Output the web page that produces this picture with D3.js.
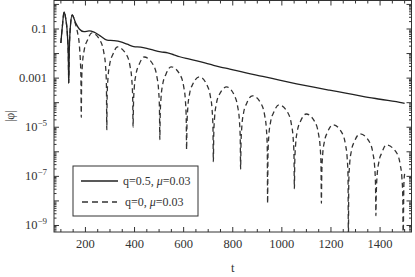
<!DOCTYPE html>
<html lang="en">
  <head>
    <meta charset="UTF-8" />
    <title>phi decay</title>
    <script src="https://cdn.jsdelivr.net/npm/d3@7"></script>
    <style>
      body { margin: 0; background: #fff; }
      svg { display: block; }
      text { font-family: "Liberation Serif", "DejaVu Serif", serif; fill: #333; }
    </style>
  </head>
  <body>
    <svg width="415" height="277"></svg>
    <script>
      // tick labels
      const xTicks = [200, 400, 600, 800, 1000, 1200, 1400];
      const yLabelExp = [-1, -3, -5, -7, -9];

      // q=0.5 curve: t and log10|phi|
      const solidT = [100, 106, 113, 120, 127, 130.5, 132, 134, 138, 146, 160, 175, 194, 215, 235, 260, 288, 315, 344, 370,
        397, 425, 450, 480, 507, 535, 560, 584, 620, 654, 690, 719, 750, 788, 850, 922, 990, 1060, 1130, 1194,
        1260, 1329, 1400, 1491, 1500];
      const solidLog = [-1.57, -0.9, -0.3, -0.6, -1.3, -2.2, -3.2, -2.0, -1.0, -0.43, -0.75, -1.0, -1.11, -1.08, -1.13, -1.28, -1.45, -1.47, -1.52, -1.62,
        -1.72, -1.74, -1.79, -1.87, -1.93, -1.97, -2.05, -2.13, -2.22, -2.30, -2.39, -2.47, -2.55, -2.63, -2.78, -2.93, -3.08, -3.23, -3.37, -3.49,
        -3.61, -3.74, -3.86, -4.01, -4.03];

      // q=0 curve: t and log10|phi|
      const dashT = [100, 106, 113, 120, 127, 130.5, 132, 134, 138, 146, 158, 168, 176, 181.5, 183,
        184.5, 188, 195, 208, 226, 262, 275, 282, 285.5, 287,
        288.5, 292, 299, 312, 330, 369, 382, 389, 392.5, 394,
        395.5, 399, 406, 419, 439, 478, 491, 498, 501.5, 503,
        504.5, 508, 515, 528, 549, 587, 600, 607, 610.5, 612,
        613.5, 617, 624, 637, 664, 696, 709, 716, 719.5, 721,
        722.5, 726, 733, 746, 775, 807, 820, 827, 830.5, 832,
        833.5, 837, 844, 857, 880, 917, 930, 937, 940.5, 942,
        943.5, 947, 954, 967, 988, 1026, 1039, 1046, 1049.5, 1051,
        1052.5, 1056, 1063, 1076, 1099, 1136, 1149, 1156, 1159.5, 1161,
        1162.5, 1166, 1173, 1186, 1208, 1246, 1259, 1266, 1269.5, 1271,
        1272.5, 1276, 1283, 1296, 1318, 1358, 1371, 1378, 1381.5, 1383,
        1384.5, 1388, 1395, 1408, 1425, 1469, 1482, 1489, 1492.5, 1494,
        1497, 1500];
      const dashLog = [-1.57, -0.9, -0.3, -0.6, -1.3, -2.2, -3.2, -2.0, -1.0, -0.43, -0.75, -1.15, -1.75, -2.9, -4.6,
        -3.16, -2.41, -1.86, -1.46, -1.16, -1.51, -1.96, -2.51, -3.26, -5.1,
        -3.73, -2.98, -2.43, -2.03, -1.73, -2.08, -2.53, -3.08, -3.83, -5.0,
        -4.14, -3.39, -2.84, -2.44, -2.14, -2.49, -2.94, -3.49, -4.24, -5.5,
        -4.54, -3.79, -3.24, -2.84, -2.54, -2.89, -3.34, -3.89, -4.64, -5.9,
        -4.95, -4.2, -3.65, -3.25, -2.95, -3.3, -3.75, -4.3, -5.05, -6.4,
        -5.36, -4.61, -4.06, -3.66, -3.36, -3.71, -4.16, -4.71, -5.46, -6.7,
        -5.72, -4.97, -4.42, -4.02, -3.72, -4.07, -4.52, -5.07, -5.82, -8.1,
        -6.09, -5.34, -4.79, -4.39, -4.09, -4.44, -4.89, -5.44, -6.19, -7.5,
        -6.46, -5.71, -5.16, -4.76, -4.46, -4.81, -5.26, -5.81, -6.56, -8.1,
        -6.9, -6.15, -5.6, -5.2, -4.9, -5.25, -5.7, -6.25, -7.0, -9.6,
        -7.27, -6.52, -5.97, -5.57, -5.27, -5.62, -6.07, -6.62, -7.37, -8.6,
        -7.72, -6.97, -6.42, -6.02, -5.72, -6.07, -6.52, -7.07, -7.82, -9.6,
        -7.3, -6.9];

      const mLeft = 54, mRight = 411.5, mTop = 0.5, mBottom = 232;
      const x = d3.scaleLinear().domain([72, 1528]).range([mLeft, mRight]);
      const y = d3.scaleLog().domain([Math.pow(10, -9.265), Math.pow(10, 0.16)]).range([mBottom, mTop]);

      const svg = d3.select('svg');

      svg.append('clipPath').attr('id', 'clip')
        .append('rect').attr('x', mLeft).attr('y', mTop).attr('width', mRight - mLeft).attr('height', mBottom - mTop);

      const line = d3.line()
        .x(d => x(d[0]))
        .y(d => y(Math.pow(10, d[1])))
        .curve(d3.curveMonotoneX);

      const solid = solidT.map((t, i) => [t, solidLog[i]]);
      const dashed = dashT.map((t, i) => [t, dashLog[i]]);

      const plot = svg.append('g').attr('clip-path', 'url(#clip)');
      plot.append('path').attr('d', line(dashed))
        .attr('fill', 'none').attr('stroke', '#333').attr('stroke-width', 1.3)
        .attr('stroke-dasharray', '5,3.5');
      plot.append('path').attr('d', line(solid))
        .attr('fill', 'none').attr('stroke', '#222').attr('stroke-width', 1.3);

      // frame
      svg.append('rect').attr('x', mLeft).attr('y', mTop)
        .attr('width', mRight - mLeft).attr('height', mBottom - mTop)
        .attr('fill', 'none').attr('stroke', '#333').attr('stroke-width', 1);

      // x ticks, bottom and top
      const xMinor = d3.range(100, 1501, 50).filter(v => !xTicks.includes(v));
      const tickG = svg.append('g').attr('stroke', '#333').attr('stroke-width', 1);
      [[mBottom, -1], [mTop, 1]].forEach(([yy, dir]) => {
        tickG.selectAll(null).data(xTicks).join('line')
          .attr('x1', d => x(d)).attr('x2', d => x(d))
          .attr('y1', yy).attr('y2', yy + dir * 5);
        tickG.selectAll(null).data(xMinor).join('line')
          .attr('x1', d => x(d)).attr('x2', d => x(d))
          .attr('y1', yy).attr('y2', yy + dir * 3);
      });

      // y ticks, left and right
      const yMajor = d3.range(-9, 1).map(e => Math.pow(10, e));
      const yMinor = [];
      d3.range(-10, 1).forEach(e => {
        d3.range(2, 10).forEach(m => {
          const v = m * Math.pow(10, e);
          if (v > y.domain()[0] && v < y.domain()[1]) yMinor.push(v);
        });
      });
      [[mLeft, 1], [mRight, -1]].forEach(([xx, dir]) => {
        tickG.selectAll(null).data(yMajor).join('line')
          .attr('x1', xx).attr('x2', xx + dir * 5)
          .attr('y1', d => y(d)).attr('y2', d => y(d));
        tickG.selectAll(null).data(yMinor).join('line')
          .attr('x1', xx).attr('x2', xx + dir * 2.5)
          .attr('y1', d => y(d)).attr('y2', d => y(d));
      });

      // x tick labels
      svg.append('g').selectAll('text').data(xTicks).join('text')
        .attr('x', d => x(d)).attr('y', mBottom + 16)
        .attr('text-anchor', 'middle').attr('font-size', 12.5)
        .text(d => d);

      // y tick labels
      const yl = svg.append('g').selectAll('text').data(yLabelExp).join('text')
        .attr('x', mLeft - 7).attr('y', d => y(Math.pow(10, d)) + 4)
        .attr('text-anchor', 'end').attr('font-size', 12.5);
      yl.each(function (e) {
        const t = d3.select(this);
        if (e >= -3) {
          t.text(e === -1 ? '0.1' : '0.001');
        } else {
          t.append('tspan').text('10');
          t.append('tspan').attr('dy', -5).attr('font-size', 9).text('\u2212' + (-e));
        }
      });

      // axis titles
      svg.append('text').attr('x', x(800)).attr('y', 272)
        .attr('text-anchor', 'middle').attr('font-size', 12.5).text('t');
      svg.append('text').attr('transform', 'translate(14,' + (mBottom + mTop) / 2 + ') rotate(-90)')
        .attr('text-anchor', 'middle').attr('font-size', 12).text('|\u03c6|');

      // legend
      const lg = svg.append('g');
      lg.append('rect').attr('x', 73).attr('y', 166).attr('width', 125).attr('height', 50)
        .attr('fill', '#fff').attr('stroke', '#333').attr('stroke-width', 1);
      lg.append('line').attr('x1', 81).attr('x2', 118).attr('y1', 181).attr('y2', 181)
        .attr('stroke', '#222').attr('stroke-width', 1.3);
      lg.append('line').attr('x1', 82).attr('x2', 117).attr('y1', 202).attr('y2', 202)
        .attr('stroke', '#333').attr('stroke-width', 1.3).attr('stroke-dasharray', '6,4');
      const l1 = lg.append('text').attr('x', 123).attr('y', 185).attr('font-size', 12);
      l1.append('tspan').text('q=0.5, ');
      l1.append('tspan').attr('font-style', 'italic').text('\u03bc');
      l1.append('tspan').text('=0.03');
      const l2 = lg.append('text').attr('x', 125).attr('y', 206).attr('font-size', 12);
      l2.append('tspan').text('q=0, ');
      l2.append('tspan').attr('font-style', 'italic').text('\u03bc');
      l2.append('tspan').text('=0.03');
    </script>
  </body>
</html>
